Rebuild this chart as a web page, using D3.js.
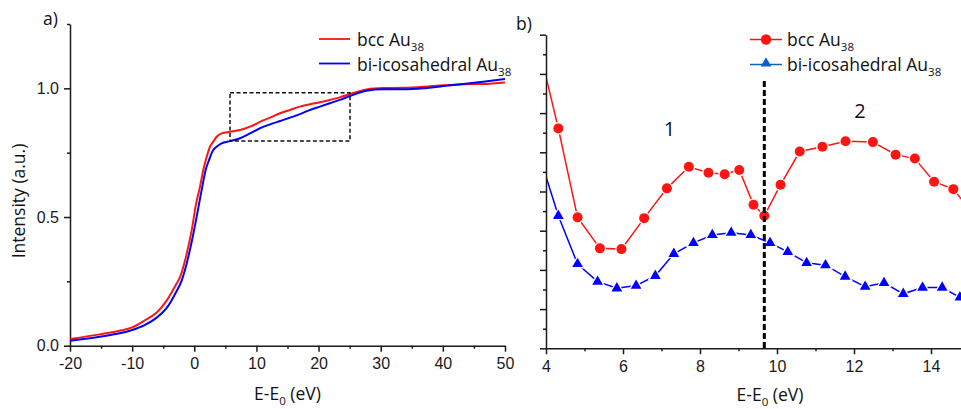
<!DOCTYPE html>
<html>
<head>
<meta charset="utf-8">
<script src="https://cdn.jsdelivr.net/npm/d3@7/dist/d3.min.js"></script>
<style>
  html, body { margin: 0; padding: 0; background: #fff; }
  svg { display: block; }
  .tick text { font-family: "Liberation Sans", Arial, sans-serif; font-size: 16px; fill: #1a1a1a; }
  .lbl { font-family: "Open Sans", sans-serif; fill: #111; }
</style>
</head>
<body>
<svg id="chart" width="961" height="409"></svg>
<script>
// ---- Panel a: XANES edge, full range ----
const edgeBccX = [-20,-15,-12,-10,-8,-6,-4.45,-3,-2.3,-1.23,-0.43,0.28,0.92,1.45,2.0,2.53,3.07,3.6,4.4,5.75,7.36,8.97,10.58,12.2,13.8,15.4,17.0,18.6,20.2,21.8,23.4,25.06,27.7,30.4,33.6,36.9,40.1,43.3,46.5,50];
const edgeBccY = [0.026,0.045,0.058,0.071,0.098,0.13,0.175,0.235,0.266,0.356,0.447,0.55,0.618,0.683,0.734,0.773,0.793,0.812,0.825,0.831,0.838,0.851,0.870,0.886,0.903,0.916,0.929,0.938,0.946,0.955,0.965,0.978,0.996,1.001,1.002,1.006,1.012,1.016,1.017,1.023];
const edgeIcoX = [-20,-15,-12,-10,-8,-6,-4.2,-3,-2.03,-0.85,-0.05,0.76,1.29,1.83,2.37,2.9,3.6,4.4,5.75,7.36,8.97,10.58,12.2,13.8,15.4,17.0,18.6,20.2,21.8,23.4,25.06,27.7,30.4,33.6,36.9,40.1,43.3,46.5,50];
const edgeIcoY = [0.019,0.036,0.048,0.061,0.08,0.11,0.155,0.205,0.253,0.356,0.447,0.55,0.618,0.683,0.721,0.754,0.773,0.786,0.795,0.806,0.825,0.845,0.860,0.873,0.886,0.900,0.916,0.929,0.942,0.955,0.970,0.991,0.996,0.996,1.0,1.009,1.017,1.026,1.036];
const zoomBox = { x0: 5.75, x1: 25.06, y0: 0.795, y1: 0.983 };
const edgeXTicks = [-20,-10,0,10,20,30,40,50];
const edgeYTicks = [0, 0.5, 1.0];

// ---- Panel b: post-edge region (arbitrary units) ----
const postBccX = [3.8,4.32,4.82,5.40,5.96,6.55,7.14,7.71,8.22,8.64,9.02,9.39,9.67,10.09,10.59,11.18,11.78,12.49,13.08,13.58,14.08,14.58,15.08];
const postBccY = [7.75,5.61,3.34,2.55,2.53,3.32,4.08,4.63,4.48,4.44,4.55,3.66,3.38,4.17,5.02,5.14,5.28,5.26,4.94,4.84,4.25,4.06,3.45];
const postIcoX = [3.84,4.32,4.82,5.34,5.84,6.34,6.84,7.32,7.83,8.32,8.81,9.32,9.82,10.28,10.77,11.26,11.77,12.29,12.78,13.28,13.78,14.29,14.75];
const postIcoY = [4.88,3.38,2.15,1.70,1.53,1.60,1.85,2.41,2.69,2.89,2.95,2.89,2.69,2.46,2.18,2.12,1.83,1.57,1.67,1.39,1.55,1.55,1.30];
const divider = 9.67;
const postXTicks = [4,6,8,10,12,14];

const RED = "#ff1414", BLUE = "#0000ff", LEG_BLUE = "#0a62c9", AXIS = "#1a1a1a";

const svg = d3.select("#chart");

function subLabel(g, x, y, main, sub, size, anchor) {
  const t = g.append("text").attr("class", "lbl").attr("x", x).attr("y", y)
    .attr("font-size", size).attr("text-anchor", anchor || "start");
  t.append("tspan").text(main);
  t.append("tspan").attr("font-size", size * 0.66).attr("dy", size * 0.27).text(sub);
  return t;
}

// ================= Panel a =================
const xA = d3.scaleLinear().domain([-20, 50]).range([70, 505]);
const yA = d3.scaleLinear().domain([0, 1.25]).range([345.7, 24]);
const gA = svg.append("g");

// minor ticks
gA.append("g").attr("transform", `translate(0,${yA(0)})`)
  .call(d3.axisBottom(xA).tickValues(d3.range(-15, 50, 10)).tickSize(3).tickFormat(""))
  .call(g => g.select(".domain").remove());
gA.append("g").attr("transform", `translate(${xA(-20)},0)`)
  .call(d3.axisLeft(yA).tickValues([0.25, 0.75, 1.25]).tickSize(3).tickFormat(""))
  .call(g => g.select(".domain").remove());
// major axes
gA.append("g").attr("transform", `translate(0,${yA(0)})`)
  .call(d3.axisBottom(xA).tickValues(edgeXTicks).tickSize(6).tickSizeOuter(0).tickPadding(6)
    .tickFormat(d => d < 0 ? "-" + Math.abs(d) : d));
gA.append("g").attr("transform", `translate(${xA(-20)},0)`)
  .call(d3.axisLeft(yA).tickValues(edgeYTicks).tickSize(6).tickSizeOuter(0).tickPadding(5)
    .tickFormat(d3.format(".1f")));

gA.selectAll(".domain, .tick line").attr("stroke", AXIS).attr("stroke-width", 1.5);

const lineA = d3.line().x(d => xA(d[0])).y(d => yA(d[1])).curve(d3.curveMonotoneX);
gA.append("path").datum(d3.zip(edgeBccX, edgeBccY)).attr("d", lineA)
  .attr("fill", "none").attr("stroke", RED).attr("stroke-width", 2);
gA.append("path").datum(d3.zip(edgeIcoX, edgeIcoY)).attr("d", lineA)
  .attr("fill", "none").attr("stroke", BLUE).attr("stroke-width", 2);

gA.append("rect")
  .attr("x", xA(zoomBox.x0)).attr("y", yA(zoomBox.y1))
  .attr("width", xA(zoomBox.x1) - xA(zoomBox.x0)).attr("height", yA(zoomBox.y0) - yA(zoomBox.y1))
  .attr("fill", "none").attr("stroke", "#111").attr("stroke-width", 1.5).attr("stroke-dasharray", "4,2.5");

// legend a
gA.append("line").attr("x1", 319).attr("x2", 350).attr("y1", 39).attr("y2", 39).attr("stroke", RED).attr("stroke-width", 1.8);
gA.append("line").attr("x1", 319).attr("x2", 350).attr("y1", 63.5).attr("y2", 63.5).attr("stroke", BLUE).attr("stroke-width", 1.8);
subLabel(gA, 357, 46, "bcc Au", "38", 17.5);
subLabel(gA, 357, 71, "bi-icosahedral Au", "38", 17.5);

gA.append("text").attr("class", "lbl").attr("font-size", 17.5)
  .attr("transform", "translate(25,201) rotate(-90)").attr("text-anchor", "middle")
  .text("Intensity (a.u.)");
subLabel(gA, 287.5, 400, "E-E", "0", 17.5, "middle").append("tspan").attr("dy", -17.5 * 0.27).text(" (eV)");
gA.append("text").attr("class", "lbl").attr("font-size", 17.5).attr("x", 43).attr("y", 25).text("a)");

// ================= Panel b =================
const xB = d3.scaleLinear().domain([4, 15]).range([546, 969.5]);
const yB = d3.scaleLinear().domain([0, 8]).range([348.3, 34.7]);
const gB = svg.append("g");

gB.append("g").attr("transform", `translate(0,${yB(0)})`)
  .call(d3.axisBottom(xB).tickValues(d3.range(5, 16, 2)).tickSize(3).tickFormat(""))
  .call(g => g.select(".domain").remove());
gB.append("g").attr("transform", `translate(${xB(4)},0)`)
  .call(d3.axisLeft(yB).tickValues(d3.range(0.5, 8, 1)).tickSize(3).tickFormat(""))
  .call(g => g.select(".domain").remove());
gB.append("g").attr("transform", `translate(0,${yB(0)})`)
  .call(d3.axisBottom(xB).tickValues(postXTicks).tickSize(6).tickSizeOuter(0).tickPadding(6));
gB.append("g").attr("transform", `translate(${xB(4)},0)`)
  .call(d3.axisLeft(yB).tickValues(d3.range(0, 9, 1)).tickSize(6).tickSizeOuter(0).tickFormat(""));
gB.selectAll(".domain, .tick line").attr("stroke", AXIS).attr("stroke-width", 1.5);

svg.append("defs").append("clipPath").attr("id", "clipB")
  .append("rect").attr("x", 547).attr("y", 0).attr("width", 961 - 547).attr("height", 348);

const plotB = gB.append("g").attr("clip-path", "url(#clipB)");
const lineB = d3.line().x(d => xB(d[0])).y(d => yB(d[1]));
const bcc = d3.zip(postBccX, postBccY);
const ico = d3.zip(postIcoX, postIcoY);

plotB.append("path").datum(bcc).attr("d", lineB).attr("fill", "none").attr("stroke", RED).attr("stroke-width", 1.5);
plotB.append("path").datum(ico).attr("d", lineB).attr("fill", "none").attr("stroke", BLUE).attr("stroke-width", 1.5);

const tri = d3.symbol().type(d3.symbolTriangle).size(50);
plotB.selectAll(".mb").data(bcc).join("circle")
  .attr("cx", d => xB(d[0])).attr("cy", d => yB(d[1])).attr("r", 5)
  .attr("fill", RED).attr("stroke", "#fff").attr("stroke-width", 2.6).attr("paint-order", "stroke");
plotB.selectAll(".mi").data(ico).join("path")
  .attr("d", tri).attr("transform", d => `translate(${xB(d[0])},${yB(d[1])})`)
  .attr("fill", BLUE).attr("stroke", "#fff").attr("stroke-width", 2.6).attr("paint-order", "stroke");

// boundary between regions 1 and 2
gB.append("line").attr("x1", xB(divider)).attr("x2", xB(divider)).attr("y1", 81).attr("y2", yB(0))
  .attr("stroke", "#000").attr("stroke-width", 3).attr("stroke-dasharray", "6,3");

gB.append("text").attr("class", "lbl").attr("font-size", 20).attr("text-anchor", "middle")
  .attr("x", 669.5).attr("y", 136).text("1");
gB.append("text").attr("class", "lbl").attr("font-size", 20).attr("text-anchor", "middle")
  .attr("x", 860).attr("y", 118.3).text("2");

// legend b
gB.append("line").attr("x1", 750).attr("x2", 782).attr("y1", 39.5).attr("y2", 39.5).attr("stroke", RED).attr("stroke-width", 1.5);
gB.append("circle").attr("cx", 766).attr("cy", 39.5).attr("r", 5.2).attr("fill", RED);
gB.append("line").attr("x1", 750).attr("x2", 782).attr("y1", 64.5).attr("y2", 64.5).attr("stroke", LEG_BLUE).attr("stroke-width", 1.5);
gB.append("path").attr("d", tri).attr("transform", "translate(766,63.5)").attr("fill", LEG_BLUE);
subLabel(gB, 787, 46, "bcc Au", "38", 17.5);
subLabel(gB, 787, 71, "bi-icosahedral Au", "38", 17.5);

subLabel(gB, 770, 401, "E-E", "0", 17.5, "middle").append("tspan").attr("dy", -17.5 * 0.27).text(" (eV)");
gB.append("text").attr("class", "lbl").attr("font-size", 17.5).attr("x", 516).attr("y", 30).text("b)");
</script>
</body>
</html>
